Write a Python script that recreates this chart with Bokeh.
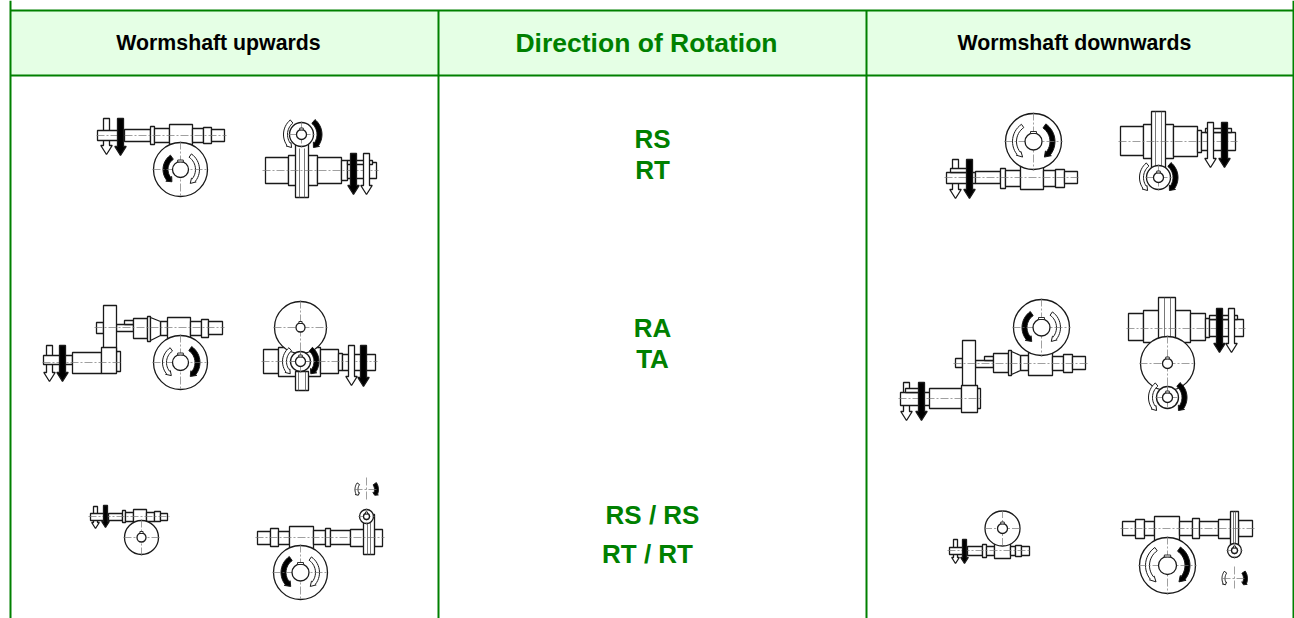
import math
from bokeh.plotting import figure
from bokeh.models import Range1d
from bokeh.core.properties import value
from bokeh.embed import file_html
from bokeh.resources import INLINE

# ---- table content -------------------------------------------------------
HEAD_TEXT = ["Wormshaft upwards", "Wormshaft downwards"]
HEAD_X = [218, 1074]
TITLE = "Direction of Rotation"
CODES = ["RS", "RT", "RA", "TA", "RS / RS", "RT / RT"]
CODE_X = [652, 652, 652, 652, 652, 647]
CODE_Y = [138, 169, 327, 358, 514, 553]
GRID_X = [10, 438, 866, 1293]
GRID_Y = [10, 75]

# ---- the six + six drawings: body parts (x0, x1, y0, y1) ---------------------
PARTS = [
 # A1
 (124,150,129,141),(150,154,126,144),(154,169,128,142),(169,192,124,144),(192,203,128,142),(203,211,127,143),(211,224,129,141),(97,118,130,140),
 # A2
 (265,288,157,183),(288,317,155,185),(317,341,157,183),(341,347,160,180),(347,376,162,178),(347,372,160,164),(295,308,140,197),
 # A3
 (116,133,324,331),(124,133,320,324),(96,103,322,333),(133,147,318,338),(147,150,316,341),(160,167,321,335),(167,190,317,338),(190,201,321,335),(201,208,319,337),(208,222,321,334),
 (43,72,355,364),(72,101,352,373),(116,120,351,371),(103,116,305,352),(101,116,347,373),
 # A4
 (263,278,349,373),(278,320,347,376),(320,338,349,373),(338,342,353,370),(342,375,354,370),(295,308,371,390),
 # A5
 (90,105,513,520),(108,122,513,520),(122,125,510,522),(125,133,512,521),(133,146,509,523),(146,154,512,521),(154,160,511,521),(160,167,513,520),
 # A6
 (257,270,531,544),(270,278,528,546),(278,289,531,544),(289,313,526,548),(313,325,530,544),(325,330,528,546),(330,350,530,544),(350,365,529,546),(374,382,529,546),(363,374,514,554),
 # B1
 (946,975,172,183),(975,1000,171,183),(1000,1005,168,188),(1005,1020,170,186),(1020,1043,164,189),(1043,1055,170,186),(1055,1064,169,187),(1064,1077,171,183),(950,968,168,172),
 # B2
 (1120,1143,126,155),(1143,1173,124,158),(1173,1197,126,156),(1197,1201,130,152),(1201,1235,132,150),(1205,1231,128,132),(1151,1165,111,173),
 # B3
 (955,962,358,367),(975,993,360,367),(984,993,356,360),(993,1008,353,372),(1008,1011,350,375),(1020,1028,355,370),(1028,1052,352,375),(1052,1063,356,370),(1063,1072,354,372),(1072,1085,356,369),
 (900,930,392,405),(905,922,388,392),(929,961,388,408),(977,980,388,408),(962,975,340,387),(961,977,385,412),
 # B4
 (1128,1143,313,340),(1143,1190,310,342),(1190,1205,313,340),(1205,1209,318,337),(1209,1243,319,336),(1209,1237,315,319),(1158,1175,297,338),
 # B5
 (949,967,547,554),(967,982,546,555),(982,986,544,557),(986,994,546,555),(994,1010,542,558),(1010,1015,546,555),(1015,1021,545,556),(1021,1029,546,555),
 # B6
 (1122,1135,521,535),(1135,1144,519,538),(1144,1154,521,535),(1154,1179,516,541),(1179,1192,521,535),(1192,1199,518,538),(1199,1218,521,535),(1218,1230,519,538),(1238,1252,520,536),(1230,1238,511,547),
]
# cone sections of the shafts (x0, x1, y0a, y1a, y0b, y1b)
CONES = [(150,160,317,340,321,335),(1011,1020,351,374,355,370)]
# stems of gears seen edge on (x, y0, y1)
STEM_LINES = [(299,148,197),(304,148,197),(1155,111,173),(1161,111,173),(1164,297,338),(1170,297,338),
              (298,371,390),(305,371,390),(367,514,554),(370,514,554),(1233,511,547),(1235,511,547)]
# wheels (cx, cy, r)
WHEELS = [(180,169,27),(301,134,12),(180,362,27),(300,327,26),(300,361,10),(141,537,17),(300,572,27),(366,516,7),
          (1033,141,28),(1158,177,12),(1041,327,28),(1167,363,27),(1167,397,11),(1002,528,17.5),(1167,565,28),(1234,550,7)]
# bores (cx, cy, r)
BORES = [(180,169,8),(301,134,5),(180,362,8),(300,327,4.5),(300,361,5),(141,537,4.5),(300,572,8.5),(366,516,3),
         (1033,141,8.5),(1158,177,5),(1041,327,8.5),(1167,363,5),(1167,397,5),(1002,528,5),(1167,565,9),(1234,550,3)]
# centre marks without a body (cx, cy, half size)
MARKS = [(366,489,12),(1234,578,12)]
# shaft axes (x0, x1, y)
AXES = [(96,226,135),(262,378,170),(94,224,327),(42,122,362),(261,377,361),(88,169,516),(255,384,537),
        (944,1079,177),(1118,1237,141),(953,1087,363),(898,982,398),(1126,1245,328),(947,1031,550),(1120,1254,528)]
# straight arrows (x, y0, y1, stem width, colour)
ARROWS_BACK = [(106,118,154,6,"white"),(49,345,381,6,"white"),(95,506,528,4,"white"),(955,159,198,6,"white"),
               (906,382,420,6,"white"),(955,539,563,4,"white")]
ARROWS_FRONT = [(120,118,155,6,"black"),(353,153,194,6,"black"),(366,153,194,6,"white"),(62,345,381,6,"black"),
                (351,345,385,6,"white"),(363,345,386,6,"black"),(105,505,527,4,"black"),(969,159,198,6,"black"),
                (1210,122,167,6,"white"),(1224,122,167,6,"black"),(921,382,420,6,"black"),(1219,308,352,6,"black"),
                (1231,308,352,6,"white"),(964,539,563,4,"black")]
# curved arrows (cx, cy, r, start deg, end deg, band width, colour)
SWEEPS = [(180,169,15,125,235,5,"black"),(180,169,17,55,-55,4,"white"),
          (302,134,17,130,230,4,"white"),(302,134,17,50,-50,5,"black"),
          (180,362,16,125,235,4,"white"),(180,362,17,55,-55,5,"black"),
          (300,361,16,130,230,4,"white"),(300,361,16,50,-50,5,"black"),
          (300,572,17,125,235,5,"black"),(300,572,17,55,-55,4,"white"),
          (366,489,10,145,215,3,"white"),(366,489,10,35,-35,4,"black"),
          (1033,141,19,125,235,4,"white"),(1033,141,19,55,-55,5,"black"),
          (1158,177,17,130,230,4,"white"),(1158,177,17,50,-50,5,"black"),
          (1041,327,17,125,235,5,"black"),(1041,327,17,55,-55,4,"white"),
          (1167,397,17,130,230,4,"white"),(1167,397,17,50,-50,5,"black"),
          (1167,565,20,125,235,4,"white"),(1167,565,20,55,-55,5,"black"),
          (1234,578,11,145,215,3,"white"),(1234,578,11,35,-35,4,"black")]

GREEN = "#008000"
p = figure(width=1294, height=618, output_backend="svg", toolbar_location=None,
           x_range=Range1d(0, 1294), y_range=Range1d(618, 0),
           min_border=0, outline_line_color=None, background_fill_color="white",
           x_axis_location=None, y_axis_location=None, margin=(0, 0, 0, 0))
p.grid.visible = False

# table
p.quad(left=[GRID_X[0]], right=[GRID_X[-1]], top=[GRID_Y[0]], bottom=[GRID_Y[1]],
       fill_color="#E5FFE5", line_color=None)
p.segment(x0=[GRID_X[0], GRID_X[0]], x1=[GRID_X[-1], GRID_X[-1]], y0=GRID_Y, y1=GRID_Y,
          line_color=GREEN, line_width=2)
p.segment(x0=[GRID_X[0], GRID_X[1], GRID_X[2], GRID_X[3]], x1=[GRID_X[0], GRID_X[1], GRID_X[2], GRID_X[3]],
          y0=[0, GRID_Y[0], GRID_Y[0], 0], y1=[618] * 4, line_color=GREEN, line_width=2)

INK = "#1a1a1a"
LW = 1.3

def arrow_patch(x, y0, y1, w, col):
    hw, hl = w * 0.95, w * 1.5
    xs = [x - w/2, x + w/2, x + w/2, x + hw, x, x - hw, x - w/2]
    ys = [y0, y0, y1 - hl, y1 - hl, y1, y1 - hl, y1 - hl]
    p.patch(xs, ys, fill_color=col, line_color=INK, line_width=LW)

def sweep_patch(cx, cy, r, a0, a1, w, col):
    n = 14
    body = [a0 + (a1 - a0) * 0.85 * i / n for i in range(n + 1)]
    pt = lambda rad, a: (cx + rad * math.cos(math.radians(a)), cy - rad * math.sin(math.radians(a)))
    outer = [pt(r + w/2, a) for a in body]
    inner = [pt(r - w/2, a) for a in reversed(body)]
    pts = outer + [pt(r + w*0.75, body[-1]), pt(r, a1), pt(r - w*0.75, body[-1])] + inner
    p.patch([q[0] for q in pts], [q[1] for q in pts], fill_color=col, line_color=INK, line_width=1.0)

for a in ARROWS_BACK:
    arrow_patch(*a)

p.quad(left=[r[0] for r in PARTS], right=[r[1] for r in PARTS], top=[r[2] for r in PARTS], bottom=[r[3] for r in PARTS],
       fill_color="white", line_color=INK, line_width=LW)
for x0, x1, a0, a1, b0, b1 in CONES:
    p.patch([x0, x1, x1, x0], [a0, b0, b1, a1], fill_color="white", line_color=INK, line_width=LW)
p.segment(x0=[s[0] for s in STEM_LINES], x1=[s[0] for s in STEM_LINES], y0=[s[1] for s in STEM_LINES], y1=[s[2] for s in STEM_LINES],
          line_color="#555555", line_width=0.8)

p.circle(x=[c[0] for c in WHEELS], y=[c[1] for c in WHEELS], radius=[c[2] for c in WHEELS],
         fill_color="white", line_color=INK, line_width=LW)

for s in SWEEPS:
    sweep_patch(*s)

# centre lines
xs0, xs1, ys0, ys1 = [], [], [], []
for cx, cy, r in WHEELS:
    xs0 += [cx - r - 1, cx]; xs1 += [cx + r + 1, cx]; ys0 += [cy, cy - r - 1]; ys1 += [cy, cy + r + 1]
for cx, cy, h in MARKS:
    xs0 += [cx - h, cx]; xs1 += [cx + h, cx]; ys0 += [cy, cy - h]; ys1 += [cy, cy + h]
for x0, x1, y in AXES:
    xs0.append(x0); xs1.append(x1); ys0.append(y); ys1.append(y)
p.segment(x0=xs0, x1=xs1, y0=ys0, y1=ys1, line_color="#777777", line_width=0.7, line_dash="8 2 2 2")

p.circle(x=[c[0] for c in BORES], y=[c[1] for c in BORES], radius=[c[2] for c in BORES],
         fill_color="white", line_color=INK, line_width=LW)
p.quad(left=[c[0] - 0.35 * c[2] for c in BORES], right=[c[0] + 0.35 * c[2] for c in BORES],
       top=[c[1] - c[2] - 1.5 for c in BORES], bottom=[c[1] - c[2] + 0.5 for c in BORES],
       fill_color="white", line_color=INK, line_width=0.9)

for a in ARROWS_FRONT:
    arrow_patch(*a)

# texts
FONT = value("Liberation Sans")
p.text(x=HEAD_X, y=[42, 42], text=HEAD_TEXT, text_font=FONT, text_font_style="bold", text_font_size="21.3px",
       text_color="#000000", text_align="center", text_baseline="alphabetic")
p.text(x=[646], y=[42], text=[TITLE], text_font=FONT, text_font_style="bold", text_font_size="26.5px",
       text_color=GREEN, text_align="center", text_baseline="alphabetic")
p.text(x=CODE_X, y=CODE_Y, text=CODES, text_font=FONT, text_font_style="bold", text_font_size="26px",
       text_color=GREEN, text_align="center", text_baseline="alphabetic")

open("out.html", "w").write(file_html(p, INLINE))
